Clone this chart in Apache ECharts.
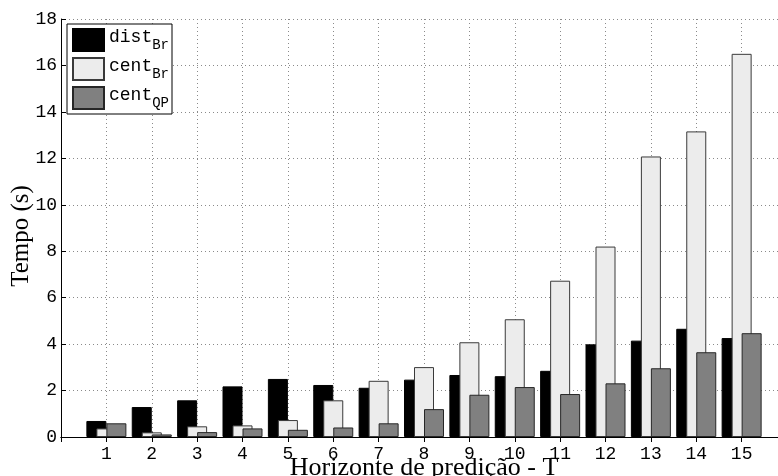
<!DOCTYPE html>
<html>
<head>
<meta charset="utf-8">
<script src="https://cdn.jsdelivr.net/npm/echarts@6/dist/echarts.min.js"></script>
<style>
html,body{margin:0;padding:0;background:#fff;}
#c{width:778px;height:476px;}
</style>
</head>
<body>
<div id="c"></div>
<script>
// Data
var categories = [1,2,3,4,5,6,7,8,9,10,11,12,13,14,15];
var distBr = [0.69,1.29,1.58,2.18,2.50,2.24,2.12,2.47,2.67,2.62,2.85,3.99,4.15,4.66,4.26];
var centBr = [0.37,0.20,0.46,0.50,0.73,1.58,2.42,3.01,4.08,5.07,6.73,8.20,12.08,13.16,16.50];
var centQP = [0.59,0.11,0.21,0.37,0.31,0.41,0.59,1.20,1.82,2.15,1.85,2.31,2.96,3.65,4.47];
var yTicks = [0,2,4,6,8,10,12,14,16,18];
var legendNames = {distBr:['dist','Br'], centBr:['cent','Br'], centQP:['cent','QP']};

function pairs(vals){ return categories.map(function(c,i){ return [c, vals[i]]; }); }

var chart = echarts.init(document.getElementById('c'), null, {renderer:'canvas'});
var mono = 'Liberation Mono';
var serif = 'Liberation Serif';
var gridDot = {show:true, lineStyle:{color:'#8a8a8a', width:1, type:[1,3]}};

var option = {
  animation:false,
  backgroundColor:'#fff',
  grid:{left:61, top:19, right:-9, bottom:39, containLabel:false, outerBoundsMode:'none'},
  legend:{
    left:67, top:24, orient:'vertical',
    backgroundColor:'#fff', borderColor:'#000', borderWidth:1,
    padding:[4,3,4,5], itemWidth:31, itemHeight:22, itemGap:5,
    icon:'rect',
    data:['distBr','centBr','centQP'],
    formatter:function(n){ var p = legendNames[n]; return '{z|\u200b}{m|'+p[0]+'}{s|'+p[1]+'}'; },
    textStyle:{
      rich:{
        z:{fontSize:1, lineHeight:24, verticalAlign:'middle'},
        m:{fontFamily:mono, fontSize:18, color:'#000', lineHeight:16, verticalAlign:'top'},
        s:{fontFamily:mono, fontSize:14, color:'#000', lineHeight:10, verticalAlign:'bottom'}
      }
    }
  },
  xAxis:[{
    type:'value', min:0, max:16, interval:1, position:'bottom',
    name:'Horizonte de predição - T', nameLocation:'middle', nameGap:18, nameMoveOverlap:false,
    nameTextStyle:{fontFamily:serif, fontSize:26, color:'#000'},
    axisLine:{show:true, onZero:false, lineStyle:{color:'#000', width:1}},
    axisTick:{show:true, inside:true, length:5, lineStyle:{color:'#000'}},
    axisLabel:{margin:8, fontFamily:mono, fontSize:18, color:'#000',
      formatter:function(v){ return (v>=1 && v<=15) ? String(v) : ''; }},
    splitLine:gridDot
  },{
    type:'value', min:0, max:16, interval:1, position:'top',
    axisLine:{show:true, lineStyle:{color:'#000', width:1}},
    axisTick:{show:true, inside:true, length:5, lineStyle:{color:'#000'}},
    axisLabel:{show:false}, splitLine:{show:false}
  }],
  yAxis:[{
    type:'value', min:yTicks[0], max:yTicks[yTicks.length-1], interval:2,
    name:'Tempo (s)', nameLocation:'middle', nameGap:27, nameRotate:90, nameMoveOverlap:false,
    nameTextStyle:{fontFamily:serif, fontSize:25, color:'#000', padding:[0,16,0,0]},
    axisLine:{show:true, lineStyle:{color:'#000', width:1}},
    axisTick:{show:true, inside:true, length:5, lineStyle:{color:'#000'}},
    axisLabel:{margin:4, fontFamily:mono, fontSize:18, color:'#000'},
    splitLine:gridDot
  }],
  series:[
    {name:'distBr', type:'bar', data:pairs(distBr), barWidth:20, barGap:'-50%',
     itemStyle:{color:'#000', borderColor:'#000', borderWidth:1}},
    {name:'centBr', type:'bar', data:pairs(centBr), barWidth:20, barGap:'-50%',
     itemStyle:{color:'#ececec', borderColor:'#3a3a3a', borderWidth:1}},
    {name:'centQP', type:'bar', data:pairs(centQP), barWidth:20, barGap:'-50%',
     itemStyle:{color:'#808080', borderColor:'#262626', borderWidth:1}}
  ]
};
chart.setOption(option);
</script>
</body>
</html>
